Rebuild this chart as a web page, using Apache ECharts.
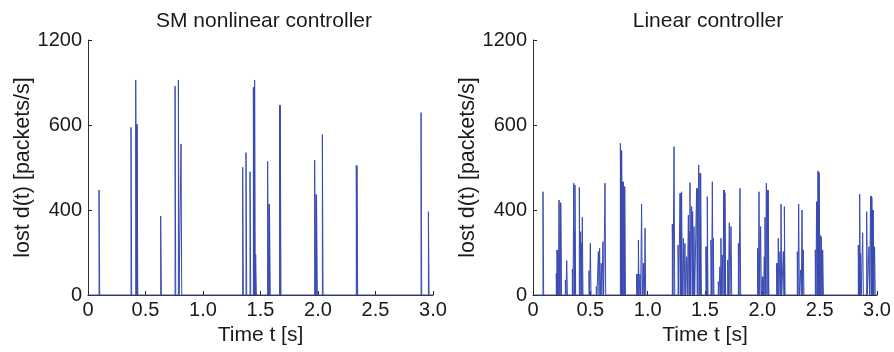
<!DOCTYPE html>
<html>
<head>
<meta charset="utf-8">
<script src="https://cdn.jsdelivr.net/npm/echarts@6/dist/echarts.min.js"></script>
<style>
html,body{margin:0;padding:0;background:#fff;}
#chart{width:894px;height:352px;}
</style>
</head>
<body>
<div id="chart"></div>
<script>
// ---- data ----
const titles = ['SM nonlinear controller', 'Linear controller'];
const xName = 'Time t [s]';
const yName = 'lost d(t) [packets/s]';
const xTickLabels = ['0', '0.5', '1.0', '1.5', '2.0', '2.5', '3.0'];
const yTickLabels = ['0', '400', '600', '1200'];
const SAMPLE = 0.006; // pulse duration (s)

// SM nonlinear controller: pulse times (s) and heights
const smTimes = [0.096, 0.374, 0.415, 0.423, 0.427, 0.632, 0.757, 0.786, 0.809, 1.345, 1.374, 1.409, 1.438, 1.442, 1.449, 1.458, 1.562, 1.574, 1.578, 1.666, 1.672, 1.971, 1.983, 1.987, 2.038, 2.333, 2.339, 2.896, 2.960];
const smLoss  = [494, 789, 1012, 803, 803, 372, 983, 1012, 711, 601, 670, 580, 977, 977, 1012, 191, 629, 427, 427, 893, 893, 634, 472, 472, 755, 609, 609, 858, 392];

// Linear controller: pulse times (s) and heights
const linTimes = [0.087, 0.203, 0.209, 0.215, 0.227, 0.238, 0.242, 0.282, 0.294, 0.343, 0.355, 0.360, 0.366, 0.404, 0.416, 0.421, 0.430, 0.488, 0.500, 0.552, 0.570, 0.581, 0.595, 0.610, 0.628,
  0.762, 0.768, 0.773, 0.780, 0.788, 0.794, 0.800, 0.904, 0.912, 0.919, 0.933, 0.947, 0.962, 0.967, 0.977,
  1.215, 1.230, 1.265, 1.282, 1.288, 1.296, 1.311, 1.325, 1.340, 1.355, 1.362, 1.369, 1.384, 1.392, 1.404, 1.427, 1.432, 1.445, 1.456, 1.462,
  1.508, 1.514, 1.520, 1.552, 1.564, 1.572, 1.616, 1.630, 1.639, 1.651, 1.663, 1.669, 1.674, 1.698, 1.712, 1.727, 1.791, 1.805,
  1.959, 1.971, 1.985, 2.000, 2.005, 2.017, 2.023, 2.035, 2.046, 2.051, 2.125, 2.130, 2.139, 2.154, 2.163, 2.183, 2.188, 2.192,
  2.305, 2.317, 2.334, 2.346, 2.357, 2.462, 2.473, 2.479, 2.485, 2.490, 2.496, 2.503, 2.514, 2.520, 2.526,
  2.837, 2.842, 2.849, 2.857, 2.875, 2.910, 2.930, 2.944, 2.950, 2.955, 2.961, 2.967, 2.979];
const linLoss  = [486, 102, 212, 212, 447, 434, 434, 71, 162, 121, 526, 300, 518, 507, 298, 243, 366, 114, 243, 39, 204, 220, 149, 251, 526,
  714, 679, 679, 533, 533, 510, 510, 99, 99, 259, 99, 428, 149, 149, 314,
  334, 698, 235, 479, 479, 486, 267, 243, 180, 376, 300, 529, 416, 392, 322, 502, 502, 612, 573, 573,
  227, 227, 463, 259, 533, 267, 63, 133, 267, 188, 494, 494, 481, 165, 340, 322, 243, 502,
  220, 486, 322, 86, 86, 180, 366, 526, 494, 494, 149, 149, 267, 204, 428, 204, 204, 416,
  204, 428, 118, 400, 212, 212, 439, 439, 585, 576, 576, 282, 275, 212, 212,
  235, 235, 475, 196, 293, 392, 227, 466, 466, 460, 400, 400, 227];

// ---- build ----
function pulses(times, vals) {
  const d = [[0, 0]];
  for (let i = 0; i < times.length; i++) {
    const t = times[i], h = vals[i];
    d.push([t, 0], [t, h], [t + SAMPLE, h], [t + SAMPLE, 0]);
  }
  d.push([3, 0]);
  return d;
}

const FONT = 'Liberation Sans, Arial, Helvetica, sans-serif';
const TXT = '#1a1a1a';
const LINE = '#3a4bb2';

const grids = [
  {left: 88, top: 40, width: 345, height: 255},
  {left: 533, top: 40, width: 344, height: 255}
];

function xAxis(i) {
  return {
    gridIndex: i, type: 'value', min: 0, max: 3, interval: 0.5,
    name: xName, nameLocation: 'middle', nameGap: 27,
    nameTextStyle: {fontFamily: FONT, fontSize: 21, color: TXT},
    axisLine: {show: true, onZero: false, lineStyle: {color: '#333', width: 1}},
    axisTick: {show: true, inside: true, length: 4, lineStyle: {color: '#222'}},
    axisLabel: {fontFamily: FONT, fontSize: 20, color: TXT, margin: 5,
      formatter: v => xTickLabels[Math.round(v / 0.5)]},
    splitLine: {show: false}
  };
}
function yAxis(i) {
  return {
    gridIndex: i, type: 'value', min: 0, max: 1200, interval: 400,
    name: yName, nameLocation: 'middle', nameGap: 54,
    nameTextStyle: {fontFamily: FONT, fontSize: 21.5, color: TXT},
    axisLine: {show: true, lineStyle: {color: '#333', width: 1}},
    axisTick: {show: true, inside: true, length: 4, lineStyle: {color: '#222'}},
    axisLabel: {fontFamily: FONT, fontSize: 20, color: TXT, margin: 6,
      formatter: v => yTickLabels[Math.round(v / 400)]},
    splitLine: {show: false}
  };
}

const chart = echarts.init(document.getElementById('chart'), null, {renderer: 'canvas'});
chart.setOption({
  animation: false,
  backgroundColor: '#fff',
  title: [
    {text: titles[0], left: 259, top: 6, textAlign: 'center',
      textStyle: {fontFamily: FONT, fontSize: 21, fontWeight: 'normal', color: TXT}},
    {text: titles[1], left: 703, top: 6, textAlign: 'center',
      textStyle: {fontFamily: FONT, fontSize: 21, fontWeight: 'normal', color: TXT}}
  ],
  grid: grids,
  xAxis: [xAxis(0), xAxis(1)],
  yAxis: [yAxis(0), yAxis(1)],
  series: [
    {type: 'line', xAxisIndex: 0, yAxisIndex: 0, data: pulses(smTimes, smLoss),
      showSymbol: false, silent: true, lineStyle: {color: LINE, width: 1}, z: 1},
    {type: 'line', xAxisIndex: 1, yAxisIndex: 1, data: pulses(linTimes, linLoss),
      showSymbol: false, silent: true, lineStyle: {color: LINE, width: 1}, z: 1}
  ]
});
</script>
</body>
</html>
